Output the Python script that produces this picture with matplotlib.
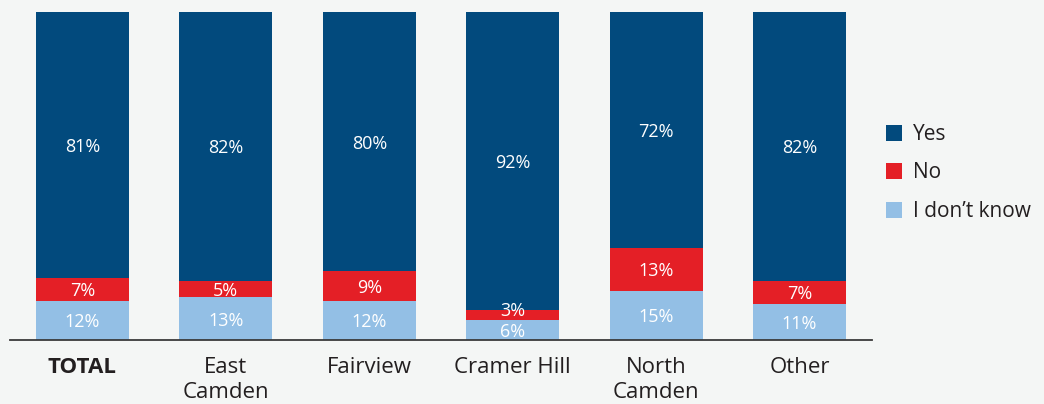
import matplotlib
matplotlib.use("Agg")
import matplotlib.pyplot as plt
import numpy as np

# survey answers by area (percent)
areas = ["TOTAL", "East\nCamden", "Fairview", "Cramer Hill", "North\nCamden", "Other"]
dont_know = [12, 13, 12, 6, 15, 11]
no = [7, 5, 9, 3, 13, 7]
yes = [81, 82, 80, 92, 72, 82]

BG = "#f4f6f5"
TXT = "#231f20"
colors = {"Yes": "#024a7d", "No": "#e41f26", "I don\u2019t know": "#93bfe5"}

plt.rcParams["font.family"] = ["Open Sans", "DejaVu Sans"]

fig = plt.figure(figsize=(10.44, 4.04), dpi=100, facecolor=BG)
ax = fig.add_axes([10 / 1044, 64 / 404, 862 / 1044, 328 / 404])
ax.set_facecolor(BG)

x = np.arange(len(areas))
w = 0.65
b1 = ax.bar(x, dont_know, w, color=colors["I don\u2019t know"], label="I don\u2019t know")
b2 = ax.bar(x, no, w, bottom=dont_know, color=colors["No"], label="No")
bottom_yes = np.array(dont_know) + np.array(no)
b3 = ax.bar(x, yes, w, bottom=bottom_yes, color=colors["Yes"], label="Yes")

# value labels in the middle of each segment, thin ones nudged up a little
for bars, vals, bots in [(b1, dont_know, np.zeros(len(x))),
                         (b2, no, np.array(dont_know)),
                         (b3, yes, bottom_yes)]:
    for xi, v, b in zip(x, vals, bots):
        top = min(b + v, 100)
        yc = (b + top) / 2
        if v < 5:
            yc += 1.8
        ax.text(xi, yc, "%d%%" % v, ha="center", va="center_baseline",
                color="white", fontsize=13)

ax.set_xlim(-0.505, 5.505)
ax.set_ylim(0, 100)
ax.set_yticks([])
ax.set_xticks(x)
ax.set_xticklabels(areas, fontsize=16, color=TXT, linespacing=1.3, va="top")
ax.get_xticklabels()[0].set_fontweight("bold")
ax.tick_params(axis="x", length=0, pad=12)
for s in ["top", "right", "left"]:
    ax.spines[s].set_visible(False)
ax.spines["bottom"].set_color("#3a3a3a")
ax.spines["bottom"].set_linewidth(1.3)

leg = fig.legend(handles=[b3, b2, b1], labels=["Yes", "No", "I don\u2019t know"],
                 loc="center left", bbox_to_anchor=(867 / 1044, 1 - 173 / 404),
                 frameon=False, fontsize=15, handlelength=0.8, handleheight=0.8,
                 handletextpad=0.5, labelspacing=0.85, labelcolor=TXT)

fig.savefig("out.png", dpi=100, facecolor=BG)
